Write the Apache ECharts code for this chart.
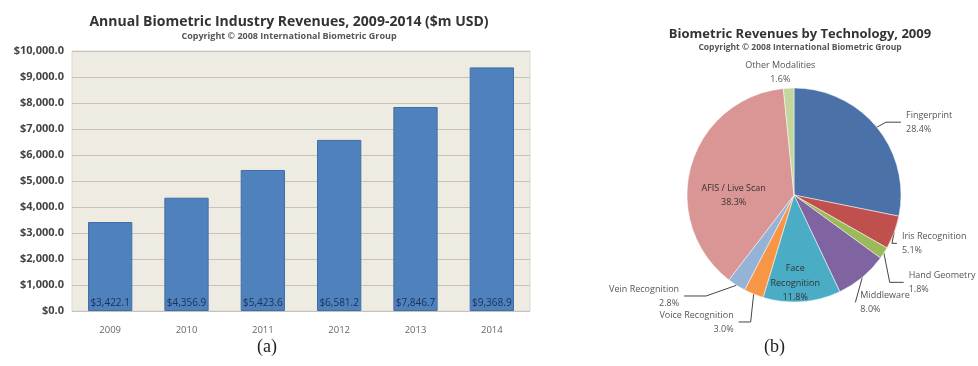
<!DOCTYPE html>
<html><head><meta charset="utf-8">
<script src="https://cdn.jsdelivr.net/npm/echarts@6/dist/echarts.min.js"></script>
<style>html,body{margin:0;padding:0;background:#fff}#c{width:978px;height:366px}</style>
</head><body><div id="c"></div>
<script>
const years = ['2009','2010','2011','2012','2013','2014'];
const revenues = [3422.1, 4356.9, 5423.6, 6581.2, 7846.7, 9368.9];
const techNames = ['Fingerprint','Iris Recognition','Hand Geometry','Middleware','Face\nRecognition','Voice Recognition','Vein Recognition','AFIS / Live Scan','Other Modalities'];
const techShares = [28.4, 5.1, 1.8, 8.0, 11.8, 3.0, 2.8, 38.3, 1.6];
const techColors = ['#4A72A8','#C0504D','#9BBB59','#8064A2','#4BACC6','#F79646','#95B3D7','#D99694','#C3D69B'];
const insideIdx = [4, 7];
// label nudges (style only)
const labelDx = [6, -14, 4, -24, -3, 0, -20, -6, 9];
const labelDy = [0, 8, 17, 7, 32, 0, 4, 16, -8];

const fmtMoney = v => '$' + v.toLocaleString('en-US', {minimumFractionDigits:1, maximumFractionDigits:1});
const font = 'Open Sans';

const chart = echarts.init(document.getElementById('c'));
chart.setOption({
  animation: false,
  textStyle: {fontFamily: font},
  title: [
    {text: 'Annual Biometric Industry Revenues, 2009-2014 ($m USD)', left: 284, textAlign: 'center', top: 10,
     textStyle: {fontSize: 14, fontWeight: 'bold', color: '#333', fontFamily: font},
     subtext: 'Copyright © 2008 International Biometric Group', itemGap: 3,
     subtextStyle: {fontSize: 9, fontWeight: 'bold', color: '#555', fontFamily: font}},
    {text: 'Biometric Revenues by Technology, 2009', left: 795, textAlign: 'center', top: 23,
     textStyle: {fontSize: 13, fontWeight: 'bold', color: '#333', fontFamily: font},
     subtext: 'Copyright © 2008 International Biometric Group', itemGap: 2,
     subtextStyle: {fontSize: 8.5, fontWeight: 'bold', color: '#555', fontFamily: font}}
  ],
  grid: {left: 72, right: 448, top: 51, bottom: 55, show: true, backgroundColor: '#EEEBE3', borderColor: '#dcd9d2', borderWidth: 1},
  xAxis: {type: 'category', data: years,
    axisLine: {show: false}, axisTick: {show: false},
    axisLabel: {color: '#666', fontSize: 9.5, margin: 14}},
  yAxis: {type: 'value', min: 0, max: 10000, interval: 1000,
    axisLine: {show: false}, axisTick: {show: false},
    splitLine: {lineStyle: {color: '#c6c2ba', width: 1}},
    axisLabel: {formatter: v => fmtMoney(v), color: '#444', fontSize: 11, fontWeight: 'bold', margin: 8}},
  graphic: [
    {type: 'text', left: 257, top: 338, style: {text: '(a)', font: '18px "Liberation Serif"', fill: '#222'}},
    {type: 'text', left: 764, top: 338, style: {text: '(b)', font: '18px "Liberation Serif"', fill: '#222'}}
  ],
  series: [
    {type: 'bar', data: revenues, barWidth: '58%',
     itemStyle: {color: '#4F81BD', borderColor: '#3f6ea6', borderWidth: 1},
     label: {show: true, position: 'insideBottom', distance: 3, formatter: p => fmtMoney(p.value), color: '#1d2f55', fontSize: 10}},
    {type: 'pie', center: [794, 195], radius: 107, startAngle: 90, clockwise: true,
     data: techNames.map((n, i) => ({
       name: n, value: techShares[i],
       itemStyle: {color: techColors[i]},
       label: insideIdx.includes(i) ? {position: 'inner', color: '#333', fontSize: 9, lineHeight: 14.5} : undefined,
       labelLine: (insideIdx.includes(i) || i === 8) ? {show: false} : undefined
     })),
     itemStyle: {borderColor: '#fff', borderWidth: 0.5},
     label: {show: true, overflow: 'none', formatter: p => p.name + '\n' + p.value.toFixed(1) + '%', color: '#555', fontSize: 9, lineHeight: 14},
     labelLine: {show: true, length: 8, length2: 12, lineStyle: {color: '#444', width: 1}},
     labelLayout: p => {
       const dx = labelDx[p.dataIndex], dy = labelDy[p.dataIndex];
       const out = {dx: dx, dy: dy};
       if (p.dataIndex === 8) out.align = 'center';
       const pts = p.labelLinePoints;
       if (pts && pts.length === 3) {
         out.labelLinePoints = [pts[0].slice(), [pts[1][0] + dx * 0.5, pts[1][1] + dy], [pts[2][0] + dx, pts[2][1] + dy]];
       }
       return out;
     }
    }
  ]
});
</script></body></html>
